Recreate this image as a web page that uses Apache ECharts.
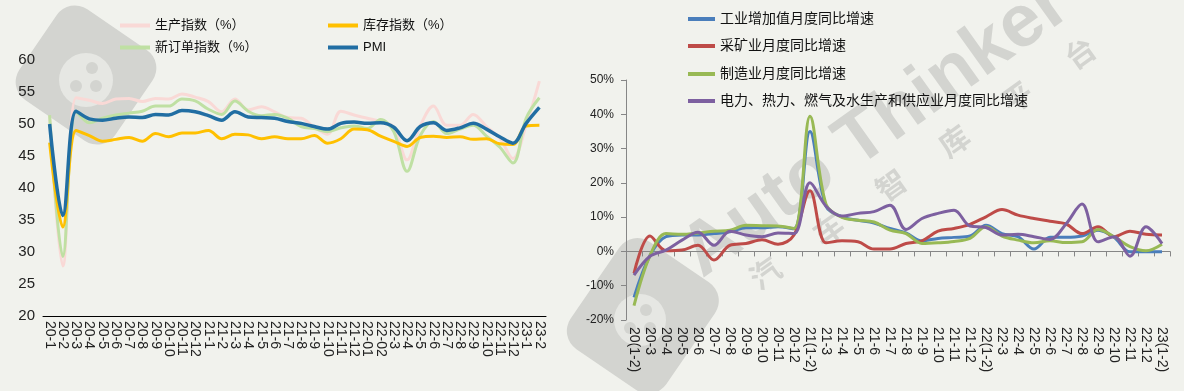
<!DOCTYPE html>
<html>
<head>
<meta charset="utf-8">
<script src="https://cdn.jsdelivr.net/npm/echarts@6/dist/echarts.min.js"></script>
<style>
html,body{margin:0;padding:0;background:#f1f2ed;}
#c{width:1184px;height:391px;}
</style>
</head>
<body>
<div id="c"></div>
<script>
// ---------- Left chart data ----------
const leftCats = ['20-1','20-2','20-3','20-4','20-5','20-6','20-7','20-8','20-9','20-10','20-11','20-12',
  '21-1','21-2','21-3','21-4','21-5','21-6','21-7','21-8','21-9','21-10','21-11','21-12',
  '22-01','22-02','22-3','22-4','22-5','22-6','22-7','22-8','22-9','22-10','22-11','22-12','23-1','23-2'];
const production = [51.3,27.8,54.1,53.7,53.2,53.9,54.0,53.5,54.0,53.9,54.7,54.2,
  53.5,51.9,53.9,52.2,52.7,51.9,51.0,50.9,49.5,48.4,52.0,51.4,
  50.9,50.4,49.5,44.4,49.7,52.8,49.8,49.8,51.5,49.6,47.8,44.6,49.8,56.7];
const inventory = [47.1,33.9,49.0,48.2,47.3,47.6,47.9,47.3,48.5,48.0,48.6,48.6,
  49.0,47.7,48.4,48.3,47.7,48.0,47.7,47.7,48.2,47.0,47.7,49.2,
  49.1,48.1,47.3,46.5,47.9,48.1,47.9,48.0,47.6,47.7,46.9,46.8,49.7,49.8];
const newOrders = [51.4,29.3,52.0,50.2,50.9,51.4,51.7,52.0,52.8,52.8,53.9,53.6,
  52.3,51.5,53.6,52.0,51.3,51.5,50.9,49.6,49.3,48.8,49.4,49.7,
  49.3,50.7,48.8,42.6,48.2,50.4,48.5,49.2,49.8,48.1,46.4,43.9,50.9,54.1];
const pmi = [50.0,35.7,52.0,50.8,50.6,50.9,51.1,51.0,51.5,51.4,52.1,51.9,
  51.3,50.6,51.9,51.1,51.0,50.9,50.4,50.1,49.6,49.2,50.1,50.3,
  50.1,50.2,49.5,47.4,49.6,50.2,49.0,49.4,50.1,49.2,48.0,47.0,50.1,52.6];
const leftNames = ['生产指数（%）','库存指数（%）','新订单指数（%）','PMI'];

// ---------- Right chart data ----------
const rightCats = ['20(1-2)','20-3','20-4','20-5','20-6','20-7','20-8','20-9','20-10','20-11','20-12',
  '21(1-2)','21-3','21-4','21-5','21-6','21-7','21-8','21-9','21-10','21-11','21-12',
  '22(1-2)','22-3','22-4','22-5','22-6','22-7','22-8','22-9','22-10','22-11','22-12','23(1-2)'];
const industry = [-13.4,-1.2,4.3,4.8,4.8,5.2,5.7,6.9,6.9,7.2,6.6,
  35.0,13.2,10.1,9.1,8.3,6.7,5.4,3.1,3.8,4.1,4.5,
  7.6,5.2,4.3,0.7,4.1,4.1,4.5,6.2,4.1,-0.1,-0.1,-0.1];
const mining = [-6.4,4.5,0.2,0.4,1.8,-2.5,1.8,2.3,3.4,2.1,4.8,
  17.7,2.5,3.1,2.8,0.7,0.7,2.3,3.1,5.9,6.7,7.9,
  10.1,12.2,10.6,9.6,8.8,8.0,5.2,7.2,4.3,5.9,5.0,4.8];
const manufacturing = [-15.8,-1.2,5.2,5.0,5.4,5.9,6.2,7.6,7.5,7.4,6.7,
  39.4,13.8,9.9,9.1,8.6,6.2,5.2,2.3,2.5,2.9,3.8,
  7.2,4.5,3.3,2.5,3.1,2.6,2.8,6.4,4.3,1.4,0.2,2.1];
const utilities = [-6.9,-1.4,0.4,3.3,5.6,1.8,5.9,4.8,4.3,5.4,5.2,
  20.0,13.2,10.3,11.1,11.6,13.5,6.4,9.6,11.1,12.0,7.4,
  7.0,4.8,5.0,4.3,3.5,8.0,13.8,2.8,4.3,-1.4,7.2,2.3];
const rightNames = ['工业增加值月度同比增速','采矿业月度同比增速','制造业月度同比增速','电力、热力、燃气及水生产和供应业月度同比增速'];

const FONT = 'Arial, "Liberation Sans", "Noto Sans CJK SC", sans-serif';
const leftColors = ['#f9d9d6','#ffc000','#bfe0a3','#216ea3'];
const rightColors = ['#4a7ebb','#be4b48','#98b954','#7d60a0'];
const WM = '#d3d4d0';

function legendItem(name, left, top, fs, w) {
  return {data:[name], left:left, top:top, icon:'rect', itemWidth:w, itemHeight:4,
    textStyle:{fontSize:fs, color:'#111', fontFamily:FONT}, selectedMode:false, padding:0};
}

const chart = echarts.init(document.getElementById('c'), null, {renderer:'canvas'});
const lineSeries = (name, data, color, xi, w) => ({
  name:name, type:'line', data:data, xAxisIndex:xi, yAxisIndex:xi, smooth:0.35,
  symbol:'none', lineStyle:{color:color, width:w}, itemStyle:{color:color}, z:3
});

// watermark (behind the plot)
const wmChars = ['汽','车','智','库','平','台'];
const wmGraphics = [
  // left logo
  {type:'rect', x:86, y:75, originX:0, originY:0, rotation:-0.6,
   shape:{x:-58, y:-55, width:116, height:110, r:22}, style:{fill:WM}, z:0, silent:true},
  {type:'circle', shape:{cx:86, cy:80, r:27}, style:{fill:'#e6e7e3'}, z:0, silent:true},
  {type:'circle', shape:{cx:76, cy:86, r:6}, style:{fill:WM}, z:0, silent:true},
  {type:'circle', shape:{cx:96, cy:86, r:6}, style:{fill:WM}, z:0, silent:true},
  {type:'circle', shape:{cx:92, cy:68, r:6}, style:{fill:WM}, z:0, silent:true},
  // right logo
  {type:'rect', x:640, y:320, originX:0, originY:0, rotation:-0.6,
   shape:{x:-58, y:-70, width:116, height:130, r:22}, style:{fill:WM}, z:0, silent:true},
  {type:'circle', shape:{cx:640, cy:320, r:26}, style:{fill:'#e6e7e3'}, z:0, silent:true},
  {type:'circle', shape:{cx:630, cy:328, r:6}, style:{fill:WM}, z:0, silent:true},
  {type:'circle', shape:{cx:650, cy:328, r:6}, style:{fill:WM}, z:0, silent:true},
  {type:'circle', shape:{cx:646, cy:310, r:6}, style:{fill:WM}, z:0, silent:true},
  // big text
  {type:'text', x:712, y:292, rotation:0.62, z:0, silent:true,
   style:{text:'Auto Thinker', font:'bold 74px Arial, "Liberation Sans", sans-serif', fill:WM, textVerticalAlign:'bottom'}}
];
wmChars.forEach((ch, i) => {
  wmGraphics.push({type:'text', x:765 + i*63, y:273 - i*44, rotation:0.62, z:0, silent:true,
    style:{text:ch, font:'bold 30px "Noto Sans CJK SC", sans-serif', fill:WM, textAlign:'center', textVerticalAlign:'middle'}});
});

chart.setOption({
  backgroundColor:'#f1f2ed',
  animation:false,
  graphic:{elements:wmGraphics},
  legend:[
    legendItem(leftNames[0],120,19,13,30), legendItem(leftNames[1],328,19,13,30),
    legendItem(leftNames[2],120,41,13,30), legendItem(leftNames[3],328,41,13,30),
    legendItem(rightNames[0],688,12,14,27), legendItem(rightNames[1],688,39,14,27),
    legendItem(rightNames[2],688,67,14,27), legendItem(rightNames[3],688,94,14,27)
  ],
  grid:[
    {left:43, top:60, width:503, height:256},
    {left:626, top:80, width:544, height:240}
  ],
  xAxis:[
    {type:'category', gridIndex:0, data:leftCats, boundaryGap:true,
     axisLine:{lineStyle:{color:'#000', width:1}}, axisTick:{show:false},
     axisLabel:{rotate:-90, interval:0, fontSize:14, color:'#222', fontFamily:FONT, margin:5}},
    {type:'category', gridIndex:1, data:rightCats, boundaryGap:true,
     axisLine:{lineStyle:{color:'#868686', width:1}}, axisTick:{show:true, length:5, lineStyle:{color:'#868686'}},
     axisLabel:{rotate:-90, interval:0, fontSize:14, color:'#222', fontFamily:FONT, margin:7}}
  ],
  yAxis:[
    {type:'value', gridIndex:0, min:20, max:60, interval:5,
     axisLine:{show:false}, axisTick:{show:false}, splitLine:{show:false},
     axisLabel:{fontSize:15, color:'#222', fontFamily:FONT, margin:8}},
    {type:'value', gridIndex:1, min:-20, max:50, interval:10,
     axisLine:{show:true, lineStyle:{color:'#868686'}}, axisTick:{show:true, length:5, lineStyle:{color:'#868686'}},
     splitLine:{show:false},
     axisLabel:{fontSize:12, color:'#222', fontFamily:FONT, margin:12, formatter:'{value}%'}}
  ],
  series:[
    lineSeries(leftNames[0], production, leftColors[0], 0, 3),
    lineSeries(leftNames[2], newOrders, leftColors[2], 0, 3),
    lineSeries(leftNames[1], inventory, leftColors[1], 0, 3),
    lineSeries(leftNames[3], pmi, leftColors[3], 0, 3.5),
    lineSeries(rightNames[0], industry, rightColors[0], 1, 3),
    lineSeries(rightNames[1], mining, rightColors[1], 1, 3),
    lineSeries(rightNames[2], manufacturing, rightColors[2], 1, 3),
    lineSeries(rightNames[3], utilities, rightColors[3], 1, 3)
  ]
});
</script>
</body>
</html>
